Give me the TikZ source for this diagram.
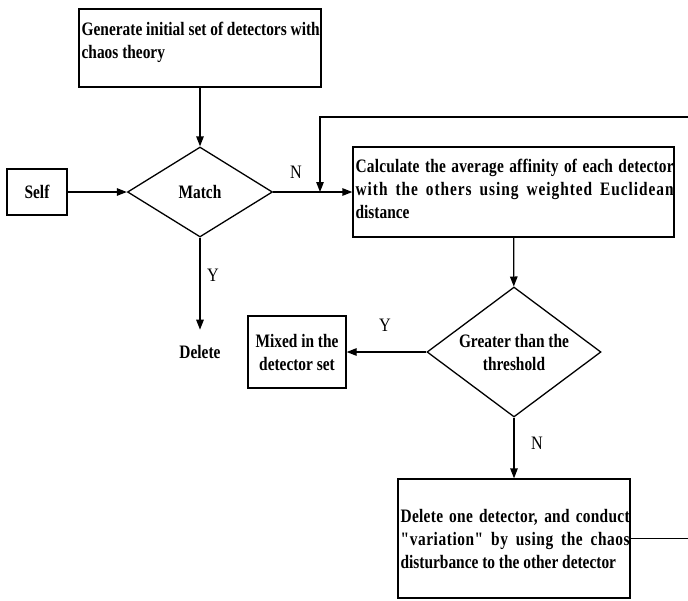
\documentclass[tikz,border=0pt]{standalone}
\usepackage{fontspec}
\usetikzlibrary{shapes.geometric,arrows.meta}
\newfontfamily\condbf{Liberation Serif}[UprightFont=* Bold, FakeStretch=0.81]
\newfontfamily\condrm{Liberation Serif}[FakeStretch=0.85]
% a line spread to a fixed width, its letters spaced apart
\newcommand{\spreadline}[3]{\makebox[#1][s]{\addfontfeature{LetterSpace=#2}#3}}
\begin{document}
\begin{tikzpicture}[x=1pt,y=-1pt, line width=1.3pt,
  lbl/.style={font=\condrm\fontsize{19}{23}\selectfont, inner sep=0pt},
  txt/.style={font=\condbf\fontsize{19}{23}\selectfont, inner sep=0pt},
  box/.style={draw, rectangle, inner sep=0pt},
  dia/.style={draw, diamond, inner sep=0pt},
  arr/.style={-{Triangle[length=10pt,width=7.5pt]}}]
\useasboundingbox (0,0) rectangle (688,600);

% process boxes
\node[box, minimum width=242, minimum height=78] (gen) at (200,48) {};
\node[txt, anchor=west, align=left] (gentext) at (81,42)
  {Generate initial set of detectors with\\chaos theory};

\node[box, txt, minimum width=60, minimum height=46] (self) at (37,192) {Self};

\node[dia, minimum width=145, minimum height=90] (match) at (200,192) {};
\node[txt] (matchtext) at (match) {Match};

\node[txt, inner ysep=15pt] (del) at (200,352) {Delete};

\node[box, minimum width=321, minimum height=90] (calc) at (513.5,192) {};
\node[txt, anchor=west, align=left] (calctext) at (355,189)
  {\spreadline{318pt}{1}{Calculate the average affinity of each detector}\\
   \spreadline{318pt}{5}{with the others using weighted Euclidean}\\
   distance};

\node[dia, minimum width=174, minimum height=130] (gt) at (514,352) {};
\node[txt, align=center] (gttext) at (gt) {Greater than the\\threshold};

\node[box, txt, minimum width=98, minimum height=72, align=center] (mix) at (297,352)
  {Mixed in the\\detector set};

\node[box, minimum width=232, minimum height=119] (dbox) at (514,538.5) {};
\node[txt, anchor=west, align=left] (dtext) at (400,539)
  {\spreadline{229pt}{1.5}{Delete one detector, and conduct}\\
   \spreadline{229pt}{3}{"variation" by using the chaos}\\
   disturbance to the other detector};

% feedback route
\coordinate (join) at (320,192);
\coordinate (top) at (320,117);
\coordinate (rt) at (692,117);

% connectors
\draw[arr] (gen) -- (match);
\draw[arr] (self) -- (match);
\draw[arr] (match) -- (calc);
\draw[arr] (match) -- (del);
\draw[arr] (calc) -- (gt);
\draw[arr] (gt) -- (mix);
\draw[arr] (gt) -- (dbox);
\draw[arr] (dbox.east) -| (rt) -- (top) -- (join);

% branch labels
\node[lbl] (n1) at (296,172) {N};
\node[lbl] (y1) at (213,275) {Y};
\node[lbl] (y2) at (385,325) {Y};
\node[lbl] (n2) at (537,443) {N};
\end{tikzpicture}
\end{document}
